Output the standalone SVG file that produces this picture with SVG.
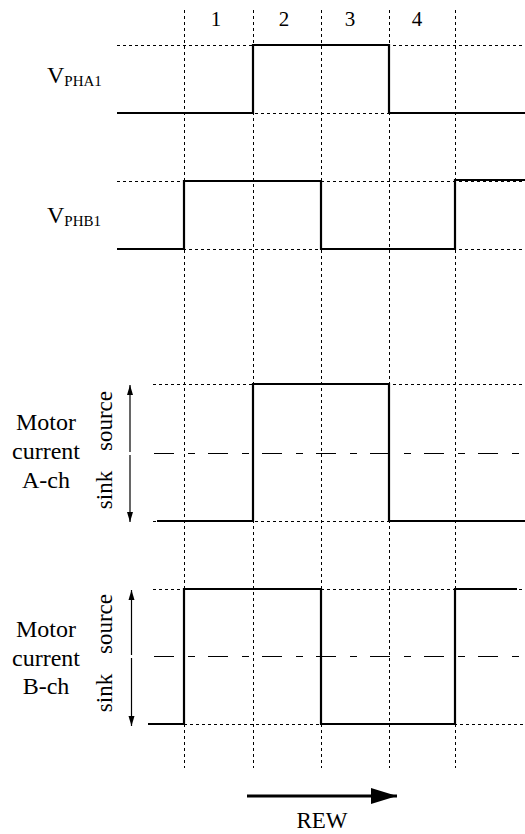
<svg xmlns="http://www.w3.org/2000/svg" width="525" height="834" viewBox="0 0 525 834">
<style>
.grid{stroke:#000;stroke-width:1;stroke-dasharray:3 3;fill:none}
.mid{stroke:#000;stroke-width:1;stroke-dasharray:20 14 7 13;fill:none}
.sig{stroke:#000;stroke-width:2.2;fill:none;stroke-linejoin:miter}
.ax{stroke:#000;stroke-width:1.2;fill:none}
text{font-family:"Liberation Serif","Times New Roman",serif;fill:#000}
.lbl{font-size:23px}
.v{font-size:24px}
.num{font-size:21px;text-anchor:middle}
.sub{font-size:15px}
.mc{font-size:24px;text-anchor:middle}
</style>
<defs>
<marker id="ah" viewBox="0 0 10 10" refX="10" refY="5" markerWidth="10" markerHeight="10" markerUnits="userSpaceOnUse" orient="auto">
<path d="M0,2 L10,5 L0,8 z" fill="#000"/>
</marker>
<marker id="big" viewBox="0 0 26 16" refX="26" refY="8" markerWidth="26" markerHeight="16" markerUnits="userSpaceOnUse" orient="auto">
<path d="M0,0 L26,8 L0,16 z" fill="#000"/>
</marker>
</defs>
<g id="grid">
<line class="grid" x1="184.5" y1="10" x2="184.5" y2="768"/>
<line class="grid" x1="253.5" y1="10" x2="253.5" y2="768"/>
<line class="grid" x1="321.5" y1="10" x2="321.5" y2="768"/>
<line class="grid" x1="389.5" y1="10" x2="389.5" y2="768"/>
<line class="grid" x1="455.5" y1="10" x2="455.5" y2="768"/>
<line class="grid" x1="117" y1="45.5" x2="525" y2="45.5"/>
<line class="grid" x1="117" y1="113.5" x2="525" y2="113.5"/>
<line class="grid" x1="117" y1="181.5" x2="525" y2="181.5"/>
<line class="grid" x1="117" y1="249.5" x2="525" y2="249.5"/>
<line class="grid" x1="153" y1="384.5" x2="525" y2="384.5"/>
<line class="grid" x1="153" y1="521.5" x2="525" y2="521.5"/>
<line class="mid" x1="154" y1="453.5" x2="525" y2="453.5"/>
<line class="grid" x1="153" y1="589.5" x2="525" y2="589.5"/>
<line class="grid" x1="148" y1="724.5" x2="525" y2="724.5"/>
<line class="mid" x1="154" y1="656.5" x2="525" y2="656.5"/>
</g>
<g id="numbers">
<text class="num" x="216" y="26">1</text>
<text class="num" x="284" y="26">2</text>
<text class="num" x="350" y="26">3</text>
<text class="num" x="417" y="26">4</text>
</g>
<g id="vpha1">
<text class="v" x="47" y="83">V<tspan class="sub" dy="3">PHA1</tspan></text>
<polyline class="sig" points="117,113 253,113 253,45 389,45 389,113 525,113"/>
</g>
<g id="vphb1">
<text class="v" x="47" y="223">V<tspan class="sub" dy="3">PHB1</tspan></text>
<polyline class="sig" points="117,249 184,249 184,181 321,181 321,249 455,249 455,180 525,180"/>
</g>
<g id="motorA">
<text class="mc" x="46" y="430">Motor</text>
<text class="mc" x="46" y="459">current</text>
<text class="mc" x="46" y="488">A-ch</text>
<text class="lbl" text-anchor="middle" transform="translate(112,421) rotate(-90)">source</text>
<text class="lbl" text-anchor="middle" transform="translate(112,490) rotate(-90)">sink</text>
<line class="ax" x1="130" y1="452" x2="130" y2="385" marker-end="url(#ah)"/>
<line class="ax" x1="130" y1="455" x2="130" y2="522" marker-end="url(#ah)"/>
<polyline class="sig" points="157,521 253,521 253,384 389,384 389,521 525,521"/>
</g>
<g id="motorB">
<text class="mc" x="46" y="637">Motor</text>
<text class="mc" x="46" y="666">current</text>
<text class="mc" x="46" y="694">B-ch</text>
<text class="lbl" text-anchor="middle" transform="translate(112,624) rotate(-90)">source</text>
<text class="lbl" text-anchor="middle" transform="translate(112,693) rotate(-90)">sink</text>
<line class="ax" x1="131.5" y1="655" x2="131.5" y2="590" marker-end="url(#ah)"/>
<line class="ax" x1="131.5" y1="658" x2="131.5" y2="726" marker-end="url(#ah)"/>
<polyline class="sig" points="148,724 184,724 184,589 321,589 321,724 455,724 455,589 517,589"/>
</g>
<g id="rew">
<line x1="247" y1="796" x2="397" y2="796" stroke="#000" stroke-width="3" marker-end="url(#big)"/>
<text class="lbl" text-anchor="middle" x="322" y="828">REW</text>
</g>
</svg>
